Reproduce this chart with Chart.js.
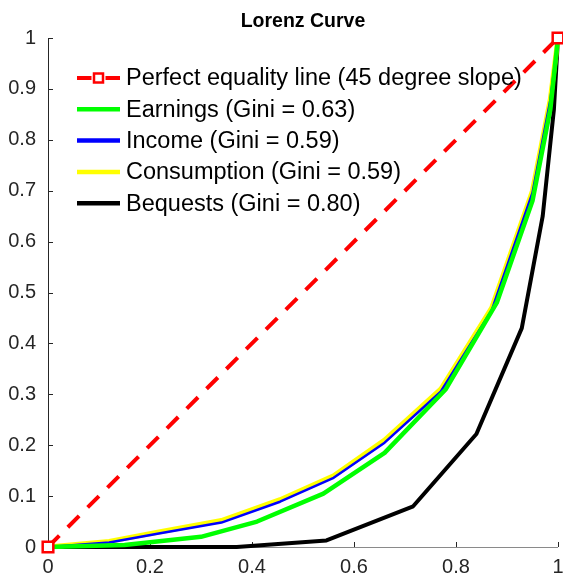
<!DOCTYPE html>
<html>
<head>
<meta charset="utf-8">
<script src="https://cdn.jsdelivr.net/npm/chart.js@4.4.1/dist/chart.umd.min.js"></script>
<style>
  html, body { margin: 0; padding: 0; background: #ffffff; }
  #wrap { width: 563px; height: 577px; }
</style>
</head>
<body>
<div id="wrap"><canvas id="lorenz" width="563" height="577"></canvas></div>
<script>
// Cumulative population share (x) and cumulative share held (y) for each series
const equalityX    = [0, 1];
const equalityY    = [0, 1];

const earningsX    = [0, 0.15, 0.30, 0.41, 0.54, 0.66, 0.78, 0.88, 0.95, 0.985, 1];
const earningsY    = [0, 0.004, 0.02, 0.05, 0.105, 0.185, 0.31, 0.48, 0.68, 0.86, 1];

const incomeX      = [0, 0.12, 0.22, 0.34, 0.455, 0.56, 0.66, 0.77, 0.87, 0.95, 0.985, 1];
const incomeY      = [0, 0.009, 0.027, 0.048, 0.089, 0.136, 0.205, 0.305, 0.465, 0.696, 0.878, 1];

const consumptionX = [0, 0.12, 0.22, 0.34, 0.455, 0.56, 0.66, 0.77, 0.87, 0.95, 0.985, 1];
const consumptionY = [0, 0.011, 0.03, 0.052, 0.093, 0.14, 0.21, 0.31, 0.47, 0.70, 0.88, 1];

const bequestsX    = [0, 0.37, 0.546, 0.716, 0.84, 0.929, 0.97, 0.992, 1];
const bequestsY    = [0, 0, 0.013, 0.08, 0.222, 0.43, 0.65, 0.86, 1];

const seriesLabels = [
  'Perfect equality line (45 degree slope)',
  'Earnings (Gini = 0.63)',
  'Income (Gini = 0.59)',
  'Consumption (Gini = 0.59)',
  'Bequests (Gini = 0.80)'
];

const xTickStep = 0.2;
const yTickStep = 0.1;

const toPoints = (xs, ys) => xs.map((x, i) => ({ x: x, y: ys[i] }));
// MATLAB-style tick text: 0, 0.1, ..., 1 (no trailing zeros)
const tickText = v => String(parseFloat(Number(v).toFixed(2)));

const FONT = "'Liberation Sans', Arial, Helvetica, sans-serif";

// Ticks point inward from the left and bottom axes, as in MATLAB
const axesPlugin = {
  id: 'matlabAxes',
  beforeDatasetsDraw(chart) {
    const { ctx, chartArea: a, scales: { x, y } } = chart;
    ctx.save();
    ctx.lineWidth = 1;
    ctx.strokeStyle = '#262626';
    x.ticks.forEach(t => {
      const px = Math.round(x.getPixelForValue(t.value)) + 0.5;
      ctx.beginPath(); ctx.moveTo(px, a.bottom); ctx.lineTo(px, a.bottom - 5); ctx.stroke();
    });
    y.ticks.forEach(t => {
      const py = Math.round(y.getPixelForValue(t.value)) + 0.5;
      ctx.beginPath(); ctx.moveTo(a.left, py); ctx.lineTo(a.left + 5, py); ctx.stroke();
    });
    // left axis line
    ctx.beginPath();
    ctx.moveTo(Math.round(a.left) + 0.5, a.top);
    ctx.lineTo(Math.round(a.left) + 0.5, a.bottom);
    ctx.stroke();
    // bottom axis line
    ctx.strokeStyle = '#8a8a8a';
    ctx.beginPath();
    ctx.moveTo(a.left, Math.round(a.bottom) + 0.5);
    ctx.lineTo(a.right, Math.round(a.bottom) + 0.5);
    ctx.stroke();
    ctx.restore();
  }
};

// Box-less legend in the upper-left corner of the plot area
const legendPlugin = {
  id: 'insideLegend',
  afterDatasetsDraw(chart) {
    const { ctx, chartArea: a } = chart;
    const x0 = a.left + 29, x1 = a.left + 72, tx = a.left + 78;
    const rowTop = a.top + 40, rowGap = 31.3;
    ctx.save();
    ctx.font = '23.5px ' + FONT;
    ctx.textBaseline = 'middle';
    ctx.textAlign = 'left';
    chart.data.datasets.forEach((ds, i) => {
      const yy = rowTop + i * rowGap;
      ctx.strokeStyle = ds.borderColor;
      ctx.lineWidth = 4.5;
      ctx.lineCap = 'butt';
      ctx.setLineDash([]);
      if (ds.pointRadius > 0) {
        const mid = (x0 + x1) / 2;
        ctx.lineWidth = ds.borderWidth;
        ctx.beginPath(); ctx.moveTo(x0, yy); ctx.lineTo(mid - 7, yy); ctx.stroke();
        ctx.beginPath(); ctx.moveTo(mid + 7, yy); ctx.lineTo(x1, yy); ctx.stroke();
        ctx.lineWidth = ds.pointBorderWidth;
        ctx.fillStyle = ds.pointBackgroundColor;
        ctx.beginPath(); ctx.rect(mid - 4.5, yy - 4.5, 9, 9); ctx.fill(); ctx.stroke();
      } else {
        ctx.beginPath(); ctx.moveTo(x0, yy); ctx.lineTo(x1, yy); ctx.stroke();
      }
      ctx.fillStyle = '#000000';
      ctx.fillText(ds.label, tx, yy + 1);
    });
    ctx.restore();
  }
};

const lineDefaults = { showLine: true, tension: 0, pointRadius: 0, pointHoverRadius: 0,
  borderJoinStyle: 'round', borderCapStyle: 'butt', fill: false };

new Chart(document.getElementById('lorenz'), {
  type: 'scatter',
  data: {
    datasets: [
      Object.assign({}, lineDefaults, {
        label: seriesLabels[0], data: toPoints(equalityX, equalityY),
        borderColor: '#ff0000', borderWidth: 4, borderDash: [16, 12],
        pointRadius: 7.5, pointStyle: 'rect', pointBorderColor: '#ff0000',
        pointBackgroundColor: '#ffffff', pointBorderWidth: 2.5
      }),
      Object.assign({}, lineDefaults, {
        label: seriesLabels[1], data: toPoints(earningsX, earningsY),
        borderColor: '#00ff00', borderWidth: 4.5
      }),
      Object.assign({}, lineDefaults, {
        label: seriesLabels[2], data: toPoints(incomeX, incomeY),
        borderColor: '#0000ff', borderWidth: 2.5
      }),
      Object.assign({}, lineDefaults, {
        label: seriesLabels[3], data: toPoints(consumptionX, consumptionY),
        borderColor: '#ffff00', borderWidth: 5
      }),
      Object.assign({}, lineDefaults, {
        label: seriesLabels[4], data: toPoints(bequestsX, bequestsY),
        borderColor: '#000000', borderWidth: 4
      })
    ]
  },
  options: {
    responsive: false,
    animation: false,
    devicePixelRatio: 1,
    clip: false,
    layout: { autoPadding: false, padding: { left: 0, right: 5, top: 0, bottom: 0 } },
    plugins: {
      legend: { display: false },
      tooltip: { enabled: false },
      title: {
        display: true,
        fullSize: false,
        text: 'Lorenz Curve',
        color: '#000000',
        font: { family: FONT, size: 19.5, weight: 'bold', lineHeight: 1.2 },
        padding: { top: 10, bottom: 4.6 }
      }
    },
    scales: {
      x: {
        type: 'linear', min: 0, max: 1,
        afterFit(scale) {
          scale.height = 30;
          scale.paddingLeft = 0;
          scale.paddingRight = 0;
        },
        grid: { display: false, drawTicks: false },
        border: { display: false },
        ticks: { stepSize: xTickStep, color: '#262626', padding: 8,
          font: { family: FONT, size: 20 }, callback: tickText }
      },
      y: {
        type: 'linear', min: 0, max: 1,
        afterFit(scale) {
          scale.width = 48;
          scale.paddingTop = 0;
          scale.paddingBottom = 0;
        },
        grid: { display: false, drawTicks: false },
        border: { display: false },
        ticks: { stepSize: yTickStep, color: '#262626', padding: 12,
          font: { family: FONT, size: 20 }, callback: tickText }
      }
    }
  },
  plugins: [axesPlugin, legendPlugin]
});
</script>
</body>
</html>
